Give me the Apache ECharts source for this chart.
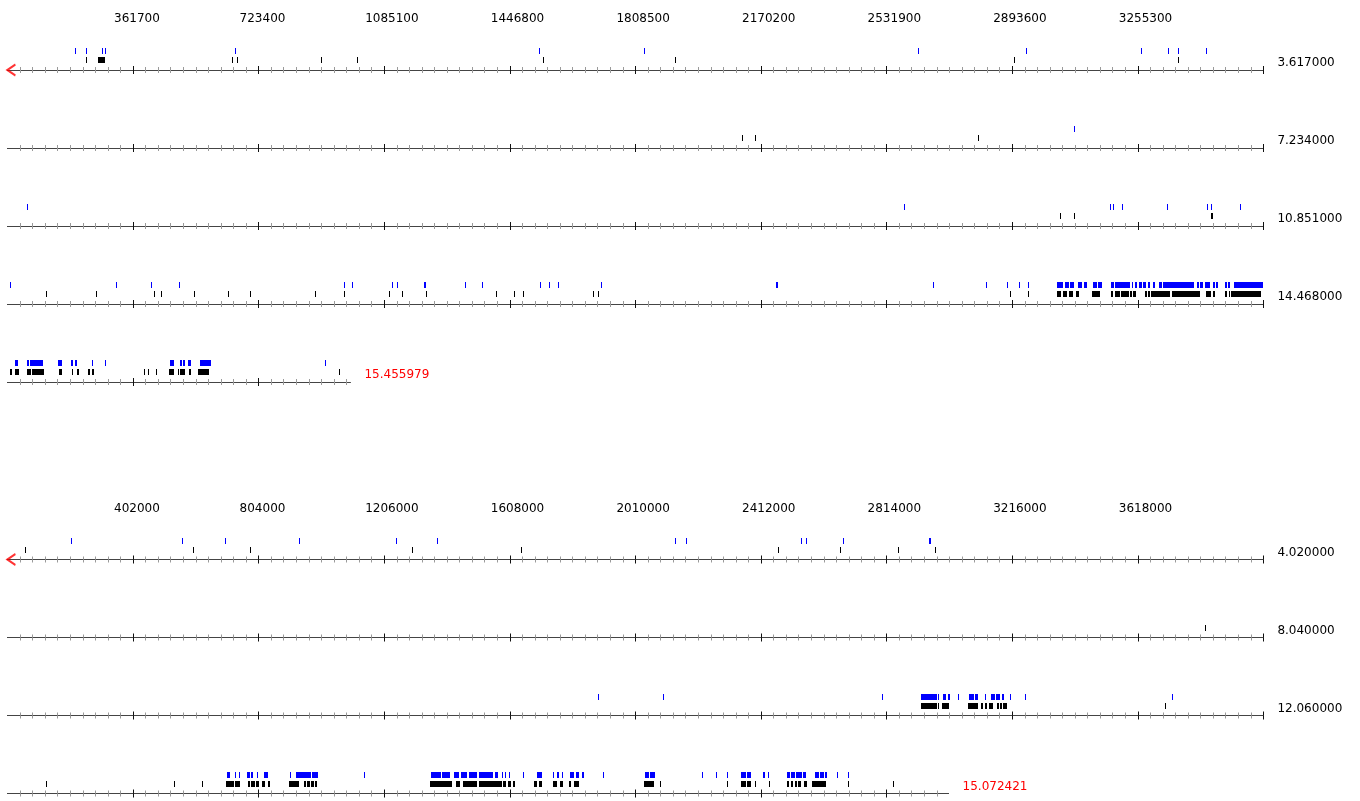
<!DOCTYPE html>
<html>
<head>
<meta charset="utf-8">
<script src="https://cdn.jsdelivr.net/npm/echarts@6/dist/echarts.min.js"></script>
<style>
  html, body { margin: 0; padding: 0; background: #fff; }
  #chart { width: 1360px; height: 801px; }
</style>
</head>
<body>
<div id="chart"></div>
<script>
// upper map: row length and total length, in Mb
const topRowLen = 3.617;
const topTotal = 15.455979;
// features in Mb: a number is a single tick, a pair is a run [start, end]
const topBlue = [
  0.194, 0.227, 0.271, 0.282, 0.656, 1.530, 1.834, 2.623, 2.934, 3.264, 3.343, 3.371, 3.452,
  6.689,
  7.291, 9.816, 10.409, 10.418, 10.444, 10.573, 10.689, 10.700, 10.784,
  10.858, 11.165, 11.264, 11.346, 11.821, 11.843, 11.958, 11.972, [12.050, 12.056], 12.168, 12.218,
  12.385, 12.411, 12.437, 12.559, [13.065, 13.070], 13.517, 13.669, 13.731, 13.763, 13.790,
  [13.874, 13.891], [13.896, 13.907], [13.911, 13.922], [13.934, 13.946], [13.950, 13.960],
  [13.978, 13.989], [13.992, 14.002], [14.030, 14.037], [14.041, 14.084], [14.089, 14.093],
  [14.098, 14.105], [14.111, 14.118], [14.122, 14.129], [14.136, 14.141], [14.151, 14.156],
  [14.168, 14.175], [14.178, 14.267], [14.276, 14.282], [14.286, 14.295], [14.299, 14.315],
  [14.322, 14.328], [14.332, 14.336], [14.358, 14.364], [14.367, 14.372], [14.383, 14.466],
  [14.490, 14.498], [14.524, 14.529], [14.532, 14.570], [14.614, 14.625], [14.650, 14.656],
  [14.663, 14.669], 14.713, 14.749, [14.936, 14.947], [14.965, 14.971], [14.974, 14.980],
  [14.989, 14.996], [15.022, 15.054], 15.383
];
const topBlack = [
  0.227, [0.262, 0.281], 0.647, 0.662, 0.904, 1.006, 1.542, 1.922, 2.899, 3.371,
  5.732, 5.770, 6.412,
  10.265, 10.305, [10.700, 10.706],
  10.962, 11.105, 11.273, 11.292, 11.389, 11.487, 11.549, 11.736, 11.821, 11.951, 11.986, 12.056,
  12.258, 12.309, 12.337, [12.536, 12.540], [12.552, 12.556], 13.738, 13.789,
  [13.874, 13.884], [13.891, 13.903], [13.909, 13.920], [13.929, 13.938], [13.973, 13.998],
  [14.030, 14.036], [14.040, 14.055], [14.057, 14.080], [14.084, 14.090], [14.093, 14.101],
  [14.127, 14.132], [14.136, 14.141], [14.143, 14.199], [14.204, 14.284], [14.303, 14.317],
  [14.322, 14.330], [14.358, 14.364], [14.368, 14.372], [14.375, 14.462],
  [14.476, 14.481], [14.490, 14.502], [14.524, 14.536], [14.539, 14.574], [14.616, 14.624],
  [14.653, 14.657], [14.669, 14.673], [14.700, 14.705], [14.712, 14.718], [14.861, 14.865],
  [14.873, 14.877], [14.895, 14.899], [14.933, 14.947], [14.958, 14.963], [14.966, 14.980],
  [14.990, 14.998], [15.017, 15.050], 15.423
];

// lower map
const bottomRowLen = 4.02;
const bottomTotal = 15.072421;
const bottomBlue = [
  0.204, 0.559, 0.696, [0.932, 0.937], 1.243, 1.374, 2.136, 2.172, 2.541, 2.556, 2.673, [2.951, 2.956],
  9.930, 10.139, 10.839, [10.964, 11.016], 11.020, [11.035, 11.043], [11.049, 11.057], 11.082,
  [11.119, 11.134], [11.137, 11.148], 11.169, [11.187, 11.201], [11.204, 11.217], [11.222, 11.231],
  11.249, 11.297, 11.768,
  [12.762, 12.772], [12.787, 12.791], [12.800, 12.804], [12.826, 12.836], [12.839, 12.847],
  [12.858, 12.863], [12.880, 12.895], 12.965, [12.984, 13.031], [13.036, 13.054], 13.201,
  [13.417, 13.449], [13.452, 13.478], [13.490, 13.505], [13.513, 13.531], [13.539, 13.564],
  [13.569, 13.615], [13.620, 13.629], 13.642, 13.653, 13.666, 13.711, [13.756, 13.771],
  [13.807, 13.811], [13.820, 13.824], [13.835, 13.839], [13.861, 13.874], [13.880, 13.889],
  [13.899, 13.904], 13.965, [14.100, 14.114], [14.118, 14.132], 14.283, 14.328, 14.362,
  [14.407, 14.424], [14.427, 14.440], [14.480, 14.486], [14.494, 14.499], [14.555, 14.565],
  [14.569, 14.580], [14.584, 14.602], [14.606, 14.615], [14.644, 14.657], [14.661, 14.673],
  [14.678, 14.682], 14.716, 14.750
];
const bottomBlack = [
  0.056, 0.595, 0.778, 1.296, 1.644, 2.466, 2.666, 2.852, 2.968,
  7.853,
  [10.964, 11.014], 11.020, [11.030, 11.054], [11.114, 11.148], [11.155, 11.162], [11.168, 11.175],
  [11.181, 11.196], [11.206, 11.213], [11.217, 11.223], [11.228, 11.238], 11.745,
  12.183, 12.594, 12.682, [12.761, 12.784], [12.787, 12.804], [12.830, 12.835], [12.839, 12.852],
  [12.857, 12.866], [12.875, 12.884], [12.895, 12.900], [12.962, 12.979], [12.982, 12.992],
  [13.010, 13.016], [13.019, 13.030], [13.033, 13.040], [13.043, 13.052], [13.412, 13.483],
  [13.496, 13.510], [13.518, 13.564], [13.568, 13.643], [13.647, 13.656], [13.662, 13.673],
  [13.679, 13.686], [13.745, 13.754], [13.762, 13.770], [13.807, 13.818], [13.830, 13.839],
  [13.856, 13.863], [13.872, 13.891], [14.099, 14.129], 14.148, 14.363, [14.407, 14.424],
  [14.427, 14.440], 14.453, 14.498, [14.556, 14.563], [14.567, 14.576], [14.580, 14.586],
  [14.591, 14.599], [14.611, 14.618], [14.635, 14.680], 14.750, 14.896
];

const FONT = 'DejaVu Sans';
const LEFT = 7.4;       // x of position 0
const FULL_W = 1256;    // width of one full row
const ROW_GAP = 78;
const H = 30;           // grid height above each axis line

const grids = [], xAxes = [], yAxes = [], series = [];

// Mb -> bp runs
function toRuns(list) {
  return list.map(v => Array.isArray(v) ? [v[0] * 1e6, v[1] * 1e6] : [v * 1e6, v * 1e6]);
}

function markRenderer(color, lift) {
  return function (params, api) {
    const a = api.coord([api.value(0), 0]);
    const b = api.coord([api.value(1), 0]);
    const x = Math.round(a[0]);
    const w = Math.max(1, Math.round(b[0]) - x);
    return {
      type: 'rect',
      shape: { x: x, y: Math.round(a[1]) - lift, width: w, height: 6 },
      style: { fill: color }
    };
  };
}

function tickAxis(gi, start, end, values, inside, len, color, extra) {
  return Object.assign({
    gridIndex: gi,
    type: 'value',
    min: start,
    max: end,
    position: 'bottom',
    splitLine: { show: false },
    axisLabel: { show: false },
    axisLine: { show: false, onZero: false },
    axisTick: { show: true, inside: inside, length: len, customValues: values, lineStyle: { color: color, width: 1 } }
  }, extra || {});
}

function addPanel(rowLen, total, blue, black, firstY) {
  const len = Math.round(rowLen * 1e6);
  const tot = Math.round(total * 1e6);
  const step = len / 10;
  const nRows = Math.ceil(tot / len);
  const blueRuns = toRuns(blue);
  const blackRuns = toRuns(black);
  let headerGrid = -1;

  for (let r = 0; r < nRows; r++) {
    const start = r * len;
    const end = Math.min(tot, start + len);
    const gi = grids.length;
    const axisY = firstY + r * ROW_GAP;
    if (r === 0) headerGrid = gi;
    grids.push({ left: LEFT, top: axisY - H, width: FULL_W * (end - start) / len, height: H });
    yAxes.push({ gridIndex: gi, type: 'value', min: 0, max: H, show: false });

    const majors = [], minors = [];
    for (let k = 1; start + k * step / 10 <= end + 1; k++) {
      const v = start + k * step / 10;
      if (k % 10 === 0) majors.push(v); else minors.push(v);
    }
    const last = r === nRows - 1;
    const axIdx = xAxes.length;
    xAxes.push(tickAxis(gi, start, end, minors, true, 3, '#9a9a9a', {
      axisLine: { show: true, onZero: false, lineStyle: { color: '#444', width: 1 } },
      name: (end / 1e6).toFixed(6),
      nameLocation: 'end',
      nameGap: 14,
      nameTextStyle: {
        color: last ? '#ff0000' : '#000',
        fontFamily: FONT,
        fontSize: 12,
        verticalAlign: 'bottom',
        lineHeight: 14
      }
    }));
    xAxes.push(tickAxis(gi, start, end, minors, false, 3, '#9a9a9a'));
    xAxes.push(tickAxis(gi, start, end, majors, true, 4, '#111'));
    xAxes.push(tickAxis(gi, start, end, majors, false, 4, '#111'));

    const inRow = run => run[0] >= start && run[0] < start + len;
    series.push({
      type: 'custom', xAxisIndex: axIdx, yAxisIndex: gi, silent: true, clip: false,
      encode: { x: [0, 1] },
      renderItem: markRenderer('#000', 13),
      data: blackRuns.filter(inRow)
    });
    series.push({
      type: 'custom', xAxisIndex: axIdx, yAxisIndex: gi, silent: true, clip: false,
      encode: { x: [0, 1] },
      renderItem: markRenderer('#0000ff', 22),
      data: blueRuns.filter(inRow)
    });
    if (r === 0) {
      // red start arrow
      series.push({
        type: 'scatter', xAxisIndex: axIdx, yAxisIndex: gi, silent: true, clip: false, z: 5,
        symbol: 'path://M8,0 L0,5.5 L8,11',
        symbolSize: [8, 11],
        symbolOffset: [4, 0],
        itemStyle: { color: 'none', borderColor: '#ff0000', borderWidth: 2 },
        data: [[start, 0]]
      });
    }
  }

  // position labels above the first row
  const labels = [];
  for (let k = 1; k < 10; k++) labels.push(k * step);
  xAxes.push({
    gridIndex: headerGrid,
    type: 'value',
    min: 0,
    max: len,
    position: 'top',
    offset: 12,
    axisLine: { show: false },
    axisTick: { show: false },
    splitLine: { show: false },
    axisLabel: {
      customValues: labels,
      formatter: v => String(Math.round(v)),
      align: 'left',
      padding: [0, 0, 0, -19],
      margin: 3,
      color: '#000',
      fontFamily: FONT,
      fontSize: 12
    }
  });
}

addPanel(topRowLen, topTotal, topBlue, topBlack, 70);
addPanel(bottomRowLen, bottomTotal, bottomBlue, bottomBlack, 559.5);

const chart = echarts.init(document.getElementById('chart'));
chart.setOption({
  animation: false,
  backgroundColor: '#fff',
  grid: grids,
  xAxis: xAxes,
  yAxis: yAxes,
  series: series
});
</script>
</body>
</html>
